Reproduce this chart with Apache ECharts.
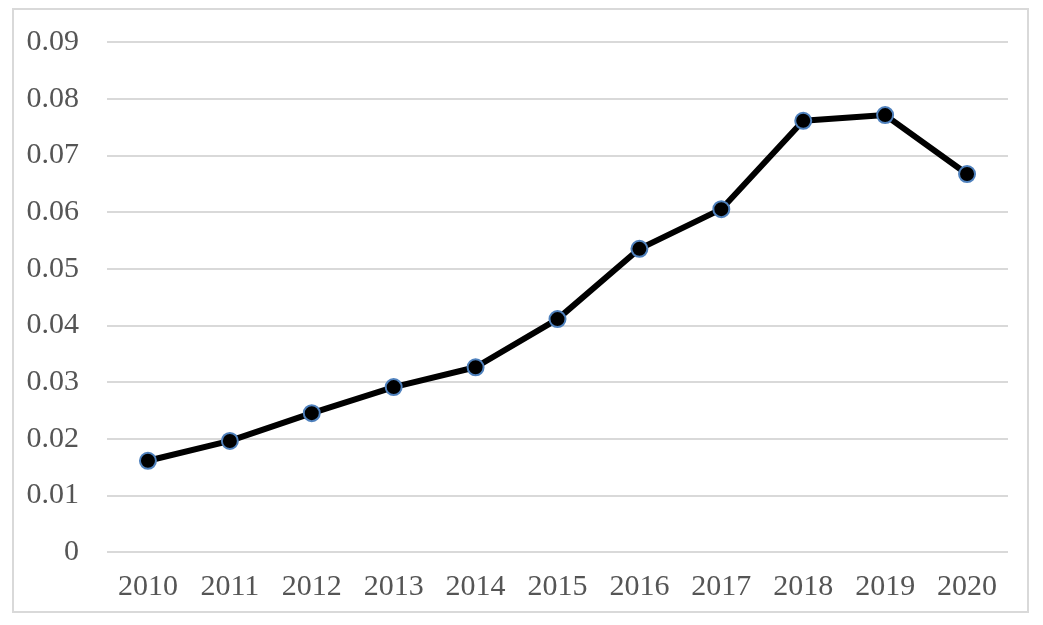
<!DOCTYPE html>
<html lang="en">
<head>
    <meta charset="UTF-8">
    <title>line chart</title>
    <script src="https://cdn.jsdelivr.net/npm/echarts@6/dist/echarts.min.js"></script>
    <style>
        html, body { margin: 0; padding: 0; background: #fff; }
        #frame { position: absolute; left: 12px; top: 8px; width: 1017px; height: 605px; border: 2px solid #d9d9d9; box-sizing: border-box; }
        #main { position: absolute; left: 0; top: 0; width: 1043px; height: 625px; }
    </style>
</head>
<body>
<div id="frame"></div>
<div id="main"></div>
<script type="text/javascript">
    var years = ['2010', '2011', '2012', '2013', '2014', '2015', '2016', '2017', '2018', '2019', '2020'];
    var values = [0.0161, 0.0196, 0.0245, 0.0291, 0.0326, 0.0411, 0.0535, 0.0605, 0.0761, 0.0771, 0.0667];

    var myChart = echarts.init(document.getElementById('main'));
    var font = 'Liberation Serif, Times New Roman, serif';
    var option = {
        animation: false,
        grid: { left: 107, right: 35, top: 42, bottom: 73 },
        xAxis: {
            type: 'category',
            data: years,
            boundaryGap: true,
            axisLine: { show: false },
            axisTick: { show: false },
            axisLabel: { color: '#555', fontFamily: font, fontSize: 30, margin: 20 }
        },
        yAxis: {
            type: 'value',
            min: 0,
            max: 0.09,
            interval: 0.01,
            axisLine: { show: false },
            axisTick: { show: false },
            splitLine: { lineStyle: { color: '#d9d9d9', width: 2 } },
            axisLabel: {
                color: '#555', fontFamily: font, fontSize: 30, margin: 28,
                formatter: function (v) { return v === 0 ? '0' : v.toFixed(2); }
            }
        },
        series: [{
            type: 'line',
            data: values,
            symbol: 'circle',
            symbolSize: 16,
            lineStyle: { color: '#000', width: 6 },
            itemStyle: { color: '#000', borderColor: '#4f81bd', borderWidth: 2 }
        }]
    };
    myChart.setOption(option);
</script>
</body>
</html>
